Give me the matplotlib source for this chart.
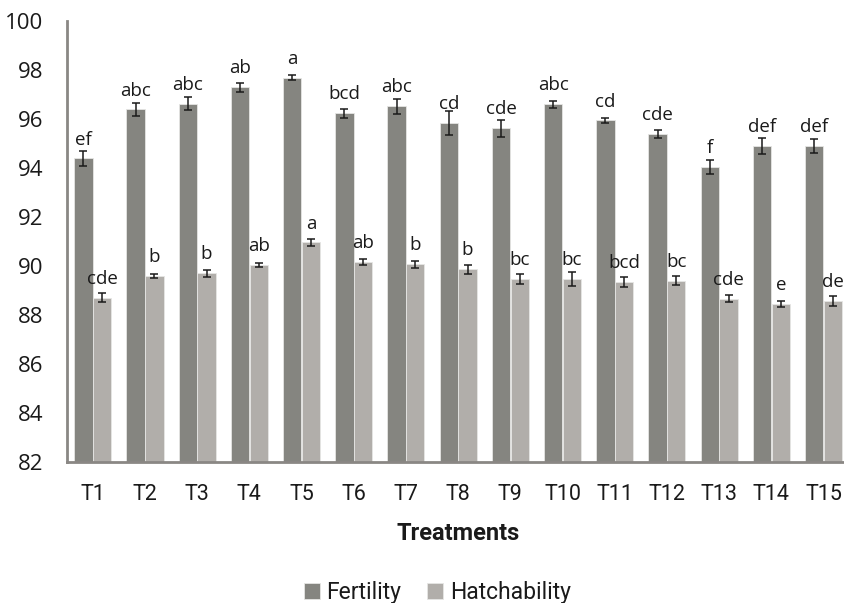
import matplotlib
matplotlib.use("Agg")
import matplotlib.pyplot as plt
import numpy as np

treatments = ["T1", "T2", "T3", "T4", "T5", "T6", "T7", "T8", "T9", "T10",
              "T11", "T12", "T13", "T14", "T15"]
fertility = [94.38, 96.38, 96.62, 97.28, 97.67, 96.22, 96.51, 95.83, 95.61,
             96.59, 95.93, 95.38, 94.02, 94.89, 94.89]
fertility_err = [0.30, 0.27, 0.27, 0.19, 0.10, 0.18, 0.30, 0.50, 0.34,
                 0.14, 0.12, 0.18, 0.29, 0.34, 0.27]
fertility_letters = ["ef", "abc", "abc", "ab", "a", "bcd", "abc", "cd", "cde",
                     "abc", "cd", "cde", "f", "def", "def"]
hatchability = [88.70, 89.58, 89.69, 90.03, 90.95, 90.14, 90.06, 89.86, 89.45,
                89.45, 89.34, 89.39, 88.66, 88.44, 88.56]
hatchability_err = [0.20, 0.10, 0.14, 0.10, 0.16, 0.12, 0.15, 0.18, 0.21,
                    0.29, 0.20, 0.19, 0.14, 0.14, 0.20]
hatchability_letters = ["cde", "b", "b", "ab", "a", "ab", "b", "b", "bc",
                        "bc", "bcd", "bc", "cde", "e", "de"]

dark = "#858580"
light = "#b1aeaa"
spine_col = "#8a8784"
narrow = ["Roboto", "DejaVu Sans"]
regular = ["Open Sans", "DejaVu Sans"]

fig = plt.figure(figsize=(8.44, 6.03), dpi=100)
ax = fig.add_axes([0.079, 0.2343, 0.9277, 0.7313])

x = np.arange(len(treatments))
w = 0.35
off = 0.18
ax.bar(x - off, fertility, w, color=dark, edgecolor="#e6e6e4",
       linewidth=0.6, label="Fertility", zorder=2)
ax.bar(x + off, hatchability, w, color=light, edgecolor="#e6e6e4",
       linewidth=0.6, label="Hatchability", zorder=2)
ax.errorbar(x - off, fertility, yerr=fertility_err, fmt="none", ecolor="#1a1a1a",
            elinewidth=1.1, capsize=3.2, capthick=1.1, zorder=3)
ax.errorbar(x + off, hatchability, yerr=hatchability_err, fmt="none",
            ecolor="#1a1a1a", elinewidth=1.1, capsize=3.2, capthick=1.1, zorder=3)

for xi, v, t in zip(x - off, fertility, fertility_letters):
    ax.annotate(t, (xi, v), xytext=(0, 10), textcoords="offset points",
                ha="center", va="baseline", fontsize=13.5, family=regular,
                color="#1a1a1a")
for xi, v, t in zip(x + off, hatchability, hatchability_letters):
    ax.annotate(t, (xi, v), xytext=(0, 10), textcoords="offset points",
                ha="center", va="baseline", fontsize=13.5, family=regular,
                color="#1a1a1a")

ax.set_ylim(82, 100)
ax.set_xlim(-0.5, 14.5)
ax.set_yticks(np.arange(82, 101, 2))
ax.set_yticklabels([str(v) for v in range(82, 101, 2)], family=regular,
                   fontsize=16, color="#1a1a1a")
ax.set_xticks(x)
ax.set_xticklabels(treatments, family=narrow, fontsize=15.5, color="#1a1a1a")
ax.tick_params(axis="y", length=0, pad=17)
ax.tick_params(axis="x", length=0, pad=16)

for s in ["top", "right"]:
    ax.spines[s].set_visible(False)
for s in ["left", "bottom"]:
    ax.spines[s].set_color(spine_col)
    ax.spines[s].set_linewidth(2)
    ax.spines[s].set_zorder(4)

ax.set_xlabel("Treatments", family=narrow, fontsize=17, fontweight="bold",
              color="#1a1a1a", labelpad=12)

leg = fig.legend(loc="center", bbox_to_anchor=(0.518, 0.018), ncol=2,
                 frameon=False, prop={"family": narrow, "size": 16.5},
                 handlelength=0.7, handleheight=0.7, handletextpad=0.3,
                 columnspacing=1.1)
for t in leg.get_texts():
    t.set_color("#1a1a1a")

fig.savefig("out.png", dpi=100)
